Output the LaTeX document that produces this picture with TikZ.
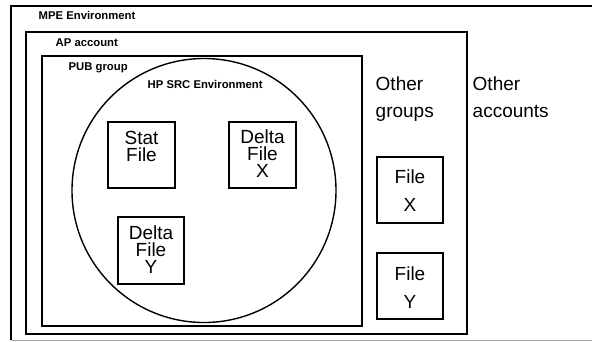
\documentclass[tikz,border=0pt]{standalone}
\usepackage{fontspec}
\setmainfont{Liberation Sans}
\begin{document}
\begin{tikzpicture}[x=1pt,y=-1pt,line width=1.4pt,
  box/.style={draw,rectangle,inner sep=0pt,outer sep=0pt},
  small/.style={font=\fontsize{11.3}{13}\selectfont\bfseries,anchor=base west,inner sep=0pt},
  big/.style={font=\fontsize{19}{22}\selectfont,inner sep=0pt},
  bigl/.style={big,anchor=base west},
  tight/.style={font=\fontsize{19}{17}\selectfont,inner sep=0pt,align=center,anchor=north},
  loose/.style={font=\fontsize{19}{28}\selectfont,inner sep=0pt,align=center,anchor=north}]
\useasboundingbox (0,0) rectangle (592,341);
\clip (0,0) rectangle (592,341);
% MPE environment (cut by the page on the right, faint bottom edge)
\draw (600,6) -| (11,340);
\node[box,draw=none,minimum width=589pt,minimum height=334pt] (mpe) at (305.5,173) {};
\draw[gray!70,line width=1pt] (11,340) -- (600,340);
% AP account
\node[box,minimum width=441pt,minimum height=302pt] (ap) at (246.5,183) {};
% PUB group
\node[box,minimum width=320pt,minimum height=270pt] (pub) at (202,191) {};
% HP SRC environment
\node[draw,circle,minimum size=264pt,inner sep=0pt] (src) at (204,190.5) {};
% files
\node[box,minimum width=67pt,minimum height=66pt] (stat) at (141.5,155) {};
\node[box,minimum width=67pt,minimum height=66pt] (dx) at (262.5,155) {};
\node[box,minimum width=66pt,minimum height=67pt] (dy) at (151,250.5) {};
\node[box,minimum width=66pt,minimum height=66pt] (fx) at (410,190) {};
\node[box,minimum width=66pt,minimum height=66pt] (fy) at (410,286) {};
% labels
\node[small] (lmpe) at (38,19.5) {MPE Environment};
\node[small] (lap) at (55,46) {AP account};
\node[small] (lpub) at (68,70) {PUB group};
\node[small] (lsrc) at (147,88) {HP SRC Environment};
\node[bigl] (og1) at (375,90) {Other};
\node[bigl] (og2) at (375,117) {groups};
\node[bigl] (oa1) at (472,90) {Other};
\node[bigl] (oa2) at (472,117) {accounts};
\node[tight] (stt) at (141.5,130.3) {Stat\\File};
\node[tight] (dxt) at (262.5,129.3) {Delta\\File\\X};
\node[tight] (dyt) at (151,225.3) {Delta\\File\\Y};
\node[loose] (fxt) at (410,169.3) {File\\X};
\node[loose] (fyt) at (410,266.3) {File\\Y};
\end{tikzpicture}
\end{document}
